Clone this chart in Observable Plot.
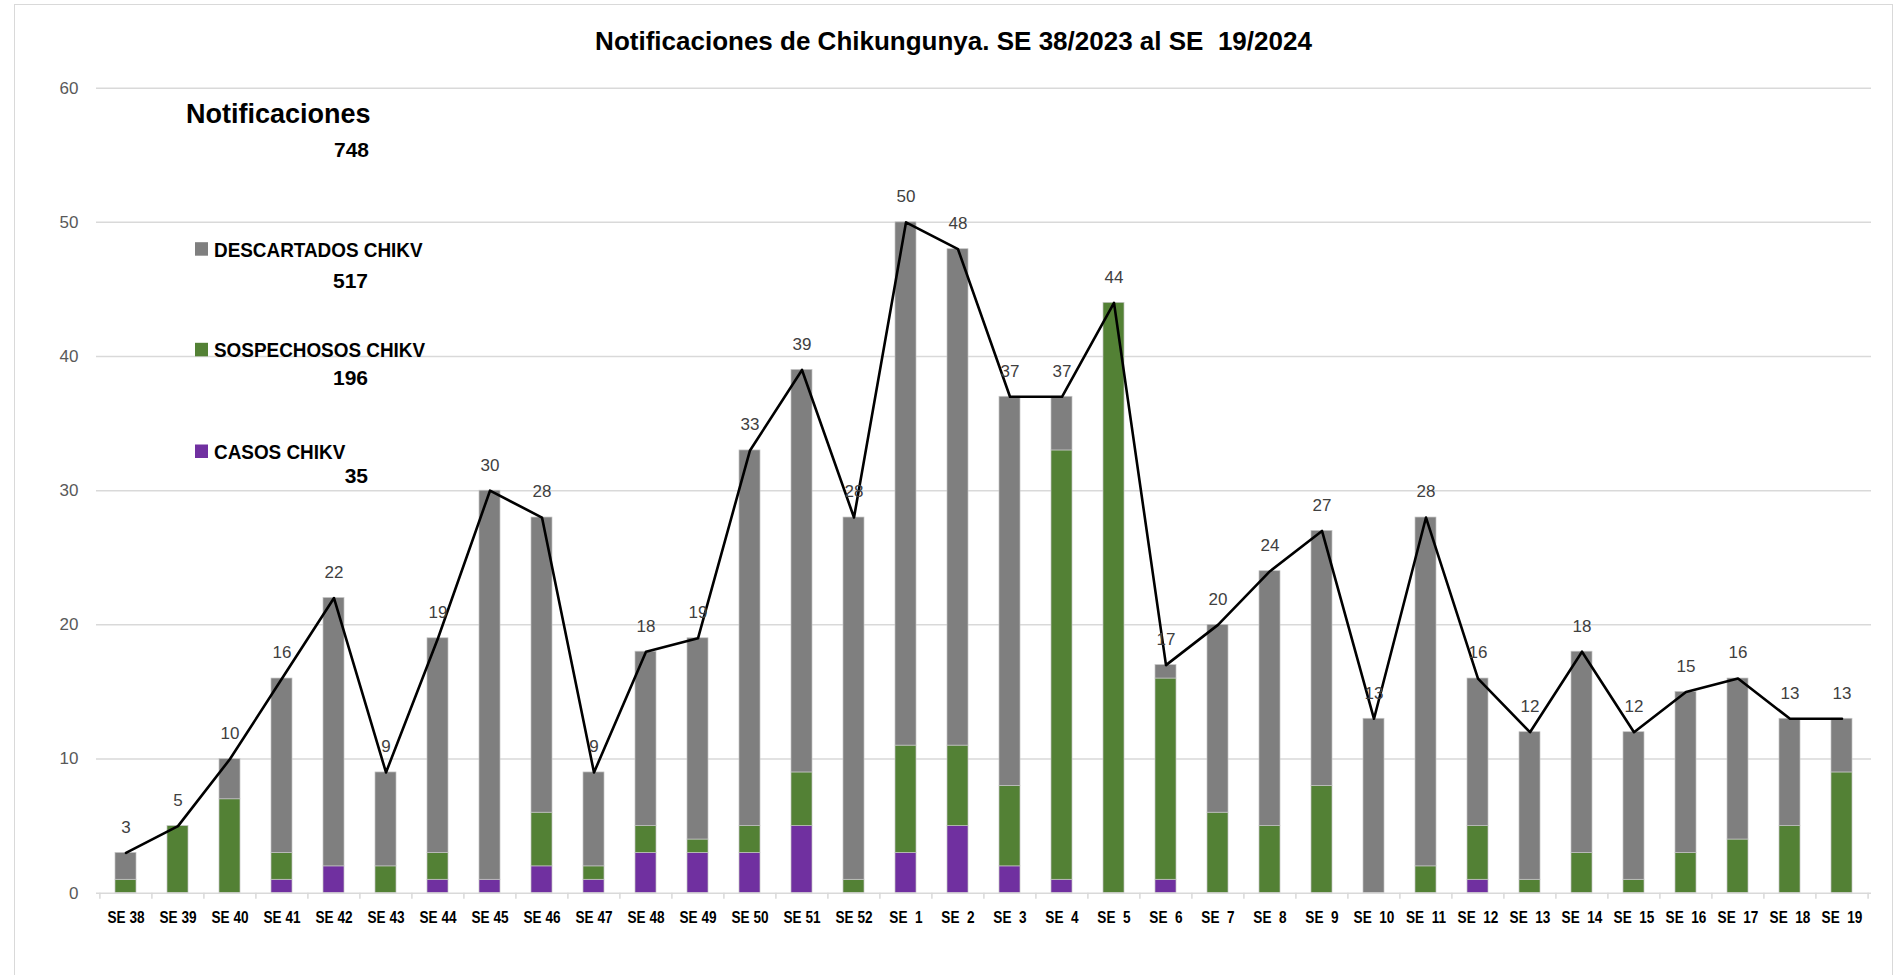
<!DOCTYPE html>
<html>
<head>
<meta charset="utf-8">
<script src="https://cdn.jsdelivr.net/npm/d3@7"></script>
<script src="https://cdn.jsdelivr.net/npm/@observablehq/plot@0.6"></script>
<style>
  body { margin: 0; background: #fff; }
  #wrap { position: relative; width: 1895px; height: 975px; overflow: hidden; background: #fff; }
  #wrap svg { position: absolute; left: 0; top: 0; }
  #border { position: absolute; left: 14px; top: 4px; width: 1879px; height: 990px; border: 1.5px solid #d9d9d9; box-sizing: border-box; }
  svg text { white-space: pre; }
</style>
</head>
<body>
<div id="wrap"><div id="border"></div></div>
<script>
// ---- data ----
const semanas = ["SE 38","SE 39","SE 40","SE 41","SE 42","SE 43","SE 44","SE 45","SE 46","SE 47","SE 48","SE 49","SE 50","SE 51","SE 52",
  "SE  1","SE  2","SE  3","SE  4","SE  5","SE  6","SE  7","SE  8","SE  9","SE  10","SE  11","SE  12","SE  13","SE  14","SE  15","SE  16","SE  17","SE  18","SE  19"];
const casos       = [0,0,0,1,2,0,1,1,2,1,3,3,3,5,0,3,5,2,1,0,1,0,0,0,0,0,1,0,0,0,0,0,0,0];
const sospechosos = [1,5,7,2,0,2,2,0,4,1,2,1,2,4,1,8,6,6,32,44,15,6,5,8,0,2,4,1,3,1,3,4,5,9];
const descartados = [2,0,3,13,20,7,16,29,22,7,13,15,28,30,27,39,37,29,4,0,1,14,19,19,13,26,11,11,15,11,12,12,8,4];
const series = ["CASOS CHIKV", "SOSPECHOSOS CHIKV", "DESCARTADOS CHIKV"];
const colores = ["#7030a0", "#538135", "#7f7f7f"];
const yTicks = [0, 10, 20, 30, 40, 50, 60];
const titulo = "Notificaciones de Chikungunya. SE 38/2023 al SE  19/2024";

// ---- derived tables ----
const valores = [casos, sospechosos, descartados];
const filas = [];
semanas.forEach((s, i) => series.forEach((serie, k) => {
  if (valores[k][i] > 0) filas.push({semana: s, serie, valor: valores[k][i]});
}));
const totales = semanas.map((s, i) => ({semana: s, total: casos[i] + sospechosos[i] + descartados[i]}));

const W = 1895, H = 975, mL = 96, mR = 24, mT = 87.7, mB = 82.3;
const step = (W - mL - mR) / semanas.length;
const font = "'Liberation Sans', Arial, sans-serif";

const chart = Plot.plot({
  width: W, height: H,
  marginLeft: mL, marginRight: mR, marginTop: mT, marginBottom: mB,
  style: {fontFamily: font, background: "transparent", overflow: "visible"},
  x: {domain: semanas, paddingInner: 0.6, paddingOuter: 0.3, label: null},
  y: {domain: [0, 60], label: null},
  color: {domain: series, range: colores},
  marks: [
    Plot.gridY(yTicks.filter(d => d > 0), {stroke: "#d9d9d9", strokeOpacity: 1, strokeWidth: 1.5}),
    Plot.axisY({ticks: yTicks, tickSize: 0, tickPadding: 18, fontSize: 17, fill: "#595959", label: null}),
    Plot.barY(filas, {x: "semana", y: "valor", fill: "serie", stroke: "#c4c4c4", strokeWidth: 0.7}),
    Plot.ruleY([0], {stroke: "#d9d9d9", strokeWidth: 1.5}),
    Plot.axisX({ticks: semanas, tickSize: 6, tickFormat: () => "", stroke: "#d9d9d9", strokeWidth: 1.5, dx: -step / 2, label: null}),
    Plot.axisX({ticks: semanas.slice(-1), tickSize: 6, tickFormat: () => "", stroke: "#d9d9d9", strokeWidth: 1.5, dx: step / 2, label: null}),
    Plot.line(totales, {x: "semana", y: "total", stroke: "#000", strokeWidth: 2.6}),
    Plot.text(totales, {x: "semana", y: "total", text: d => String(d.total), dy: -25.5, fontSize: 17, fill: "#404040"}),
    Plot.axisX({tickSize: 0, tickPadding: 18.5, fontSize: 16, fontWeight: "bold", fill: "#000", label: null})
  ]
});
const wrap = document.getElementById("wrap");
wrap.appendChild(chart);

// condense bold x labels (Calibri-like width)
d3.select(chart).selectAll("g[aria-label='x-axis tick label'] text").each(function() {
  if (!this.textContent.trim()) return;
  this.setAttribute("xml:space", "preserve");
  const w = this.getComputedTextLength();
  this.setAttribute("textLength", w * 0.85);
  this.setAttribute("lengthAdjust", "spacingAndGlyphs");
});

// ---- title and legend overlay ----
const ov = d3.select(wrap).append("svg").attr("width", W).attr("height", H)
  .style("font-family", font).style("pointer-events", "none");

ov.append("text").attr("x", 953.5).attr("y", 50).attr("text-anchor", "middle")
  .attr("font-size", 26).attr("font-weight", "bold").attr("fill", "#000").text(titulo);

const sumArr = a => a.reduce((s, v) => s + v, 0);
ov.append("text").attr("x", 186).attr("y", 123.3).attr("font-size", 27).attr("font-weight", "bold").text("Notificaciones");
ov.append("text").attr("x", 369).attr("y", 156.7).attr("text-anchor", "end").attr("font-size", 21).attr("font-weight", "bold")
  .text(String(sumArr(casos) + sumArr(sospechosos) + sumArr(descartados)));

const leg = [
  {serie: series[2], color: colores[2], arr: descartados, base: 256.7, numBase: 288.3},
  {serie: series[1], color: colores[1], arr: sospechosos, base: 357.3, numBase: 385},
  {serie: series[0], color: colores[0], arr: casos, base: 459, numBase: 483.3}
];
leg.forEach(l => {
  ov.append("rect").attr("x", 195).attr("y", l.base - 14.5).attr("width", 13).attr("height", 13.5).attr("fill", l.color);
  const t = ov.append("text").attr("x", 214).attr("y", l.base).attr("font-size", 21).attr("font-weight", "bold").text(l.serie);
  const w = t.node().getComputedTextLength();
  t.attr("textLength", w * 0.9).attr("lengthAdjust", "spacingAndGlyphs");
  ov.append("text").attr("x", 368).attr("y", l.numBase).attr("text-anchor", "end").attr("font-size", 21).attr("font-weight", "bold")
    .text(String(sumArr(l.arr)));
});
</script>
</body>
</html>
